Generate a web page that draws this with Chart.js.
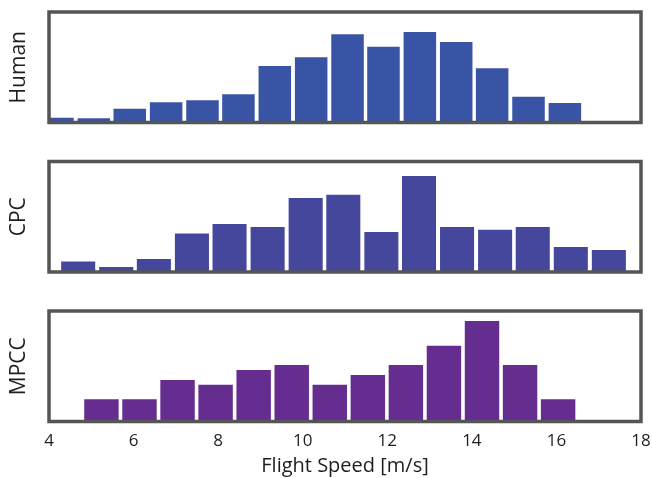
<!DOCTYPE html>
<html><head><meta charset="utf-8">
<script src="https://cdn.jsdelivr.net/npm/chart.js@4"></script>
<style>
html,body{margin:0;padding:0;background:#fff;}
#wrap{position:relative;width:652px;height:478px;overflow:hidden;}
canvas{position:absolute;left:0;top:0;}
</style></head><body>
<div id="wrap">
<canvas id="c1" width="652" height="478"></canvas>
<canvas id="c2" width="652" height="478"></canvas>
<canvas id="c3" width="652" height="478"></canvas>
</div>
<script>
// ---- data ----
const xTickLabels = [4, 6, 8, 10, 12, 14, 16, 18];
const xAxisTitle = 'Flight Speed [m/s]';
const panelNames = ['Human', 'CPC', 'MPCC'];

const humanBins   = [4.20, 5.06, 5.91, 6.77, 7.63, 8.48, 9.34, 10.20, 11.06, 11.91, 12.77, 13.63, 14.48, 15.34, 16.20];
const humanValues = [4.8, 4.2, 13.8, 20.2, 22.2, 28.2, 56.5, 65.2, 88.2, 75.8, 90.5, 80.5, 54.2, 25.8, 19.5];

const cpcBins   = [4.69, 5.59, 6.48, 7.38, 8.27, 9.17, 10.07, 10.96, 11.86, 12.75, 13.65, 14.55, 15.44, 16.34, 17.24];
const cpcValues = [10.6, 5.0, 13.0, 38.6, 48.0, 45.0, 74.0, 77.3, 40.0, 96.0, 45.0, 42.3, 45.0, 25.0, 22.0];

const mpccBins   = [5.24, 6.14, 7.04, 7.94, 8.84, 9.74, 10.64, 11.54, 12.44, 13.34, 14.24, 15.14, 16.04];
const mpccValues = [22.2, 22.2, 41.5, 36.8, 51.5, 56.5, 36.8, 46.5, 56.5, 75.8, 100.5, 56.5, 22.2];

const yMax = [110.5, 110.5, 110.5];
// ---- styles ----
const colors = ['rgb(57,84,164)', 'rgb(68,71,156)', 'rgb(102,45,144)'];
const FONT = '"Open Sans", "Noto Sans", sans-serif';
const TEXT = '#1e1e1e';
const panels = [
  {id: 'c1', bins: humanBins, values: humanValues, top: 12,    bottom: 122.5},
  {id: 'c2', bins: cpcBins,   values: cpcValues,   top: 161.5, bottom: 272},
  {id: 'c3', bins: mpccBins,  values: mpccValues,  top: 311,   bottom: 421.5}
];

const framePlugin = {
  id: 'frame',
  afterDatasetsDraw(chart) {
    const {ctx, chartArea: a} = chart;
    ctx.save();
    ctx.strokeStyle = '#555555';
    ctx.lineWidth = 3.5;
    ctx.strokeRect(a.left, a.top, a.right - a.left, a.bottom - a.top);
    ctx.restore();
  }
};

panels.forEach((p, i) => {
  const isLast = i === panels.length - 1;
  new Chart(document.getElementById(p.id), {
    type: 'bar',
    data: {
      datasets: [{
        label: panelNames[i],
        data: p.bins.map((b, k) => ({x: b, y: p.values[k]})),
        backgroundColor: colors[i],
        borderWidth: 0,
        barPercentage: 0.905,
        categoryPercentage: 1.0,
        clip: 0
      }]
    },
    options: {
      responsive: false,
      animation: false,
      devicePixelRatio: 1,
      layout: {padding: {left: 0, right: 11, top: p.top, bottom: isLast ? 0 : 478 - p.bottom}},
      plugins: {legend: {display: false}, tooltip: {enabled: false}},
      scales: {
        x: {
          type: 'linear',
          min: 4, max: 18,
          offset: false,
          display: isLast,
          grid: {display: false, drawTicks: false, offset: false},
          border: {display: false},
          afterBuildTicks: s => { s.ticks = xTickLabels.map(v => ({value: v})); },
          afterFit: s => {
            s.paddingLeft = 0; s.paddingRight = 0;
            if (isLast) s.height = 478 - p.bottom;
          },
          ticks: {
            padding: 9,
            color: TEXT,
            font: {family: FONT, size: 17},
            maxRotation: 0,
            autoSkip: false
          },
          title: {
            display: true,
            text: xAxisTitle,
            color: TEXT,
            font: {family: FONT, size: 20},
            padding: {top: 0, bottom: 0}
          }
        },
        y: {
          min: 0, max: yMax[i],
          grid: {display: false, drawTicks: false},
          border: {display: false},
          ticks: {display: false},
          afterFit: s => { s.width = 49; s.paddingTop = 0; s.paddingBottom = 0; },
          title: {
            display: true,
            text: panelNames[i],
            color: TEXT,
            font: {family: FONT, size: 21},
            padding: {top: 6, bottom: 0}
          }
        }
      }
    },
    plugins: [framePlugin]
  });
});
</script>
</body></html>
